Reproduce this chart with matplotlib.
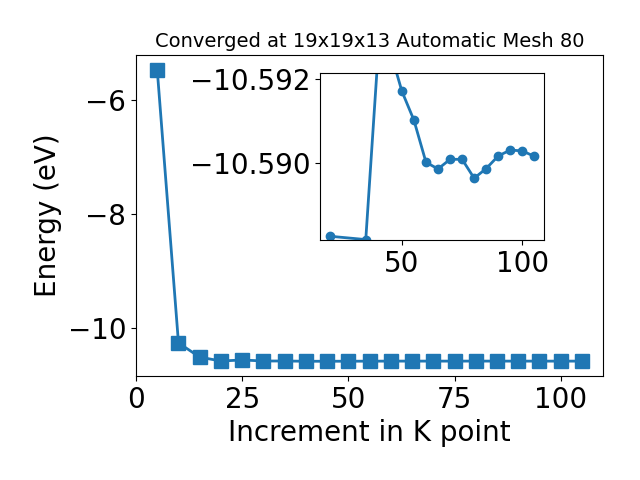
import matplotlib
matplotlib.use('Agg')
import matplotlib.pyplot as plt

# main convergence data
kpoints = [5, 10, 15, 20, 25, 30, 35, 40, 45, 50, 55, 60, 65, 70, 75, 80, 85, 90, 95, 100, 105]
energy = [-5.47, -10.27, -10.52, -10.5883, -10.57, -10.588, -10.5882, -10.5925, -10.5927,
          -10.5917, -10.5910, -10.5900, -10.5899, -10.5901, -10.5901, -10.5896,
          -10.5899, -10.5902, -10.5903, -10.5903, -10.5902]

# inset data
k_in = [20, 35, 40, 45, 50, 55, 60, 65, 70, 75, 80, 85, 90, 95, 100, 105]
e_in = [-10.58826, -10.58818, -10.5925, -10.5927, -10.59171, -10.59102, -10.59002,
        -10.58986, -10.59009, -10.59009, -10.58964, -10.58987, -10.59017, -10.59031,
        -10.59029, -10.59016]

fig = plt.figure(figsize=(6.4, 4.8), dpi=100)
ax = fig.add_axes([0.2125, 0.217, 0.73, 0.668])
ax.plot(kpoints, energy, marker='s', markersize=10, linewidth=2, color='#1f77b4')
ax.set_xlabel('Increment in K point', fontsize=20)
ax.set_ylabel('Energy (eV)', fontsize=20)
ax.set_title('Converged at 19x19x13 Automatic Mesh 80', fontsize=14)
ax.tick_params(labelsize=20)
ax.set_xticks([0, 25, 50, 75, 100])
ax.set_yticks([-6, -8, -10])

ins = fig.add_axes([0.5, 0.5, 0.35, 0.3485])
ins.plot(k_in, e_in, marker='o', markersize=6, linewidth=2, color='#1f77b4')
ins.set_xlim(16, 109)
ins.set_ylim(-10.58817, -10.59215)
ins.set_xticks([50, 100])
ins.set_yticks([-10.592, -10.590])
ins.ticklabel_format(useOffset=False, axis='y')
ins.tick_params(labelsize=20)

fig.savefig('out.png')
